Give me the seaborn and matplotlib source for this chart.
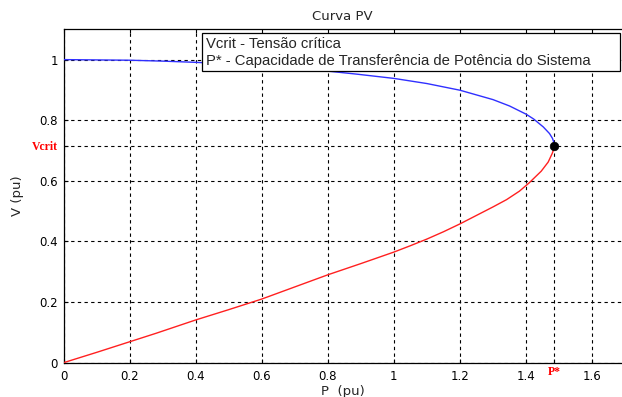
import matplotlib
matplotlib.use("Agg")
import matplotlib.pyplot as plt
from matplotlib.patches import Rectangle
import seaborn as sns
import pandas as pd

# Upper (stable) branch
upper_p = [0, 0.1, 0.2, 0.3, 0.4, 0.5, 0.6, 0.7, 0.8, 0.888, 1.0, 1.1, 1.2, 1.3,
           1.35, 1.4, 1.423, 1.452, 1.471, 1.48, 1.484, 1.485]
upper_v = [1.0, 0.999, 0.998, 0.995, 0.991, 0.986, 0.979, 0.971, 0.962, 0.952,
           0.938, 0.921, 0.899, 0.868, 0.847, 0.82, 0.804, 0.778, 0.756, 0.74,
           0.727, 0.715]

# Lower (unstable) branch
lower_p = [0, 0.1, 0.2, 0.28, 0.4, 0.5, 0.6, 0.7, 0.8, 0.9, 1.0, 1.05, 1.1, 1.15,
           1.2, 1.25, 1.3, 1.341, 1.38, 1.41, 1.446, 1.467, 1.479, 1.484, 1.485]
lower_v = [0, 0.034, 0.069, 0.097, 0.141, 0.175, 0.21, 0.25, 0.29, 0.327, 0.365,
           0.386, 0.408, 0.432, 0.458, 0.486, 0.514, 0.538, 0.566, 0.594, 0.632,
           0.662, 0.69, 0.705, 0.715]

p_star = 1.485
v_crit = 0.715

x_ticks = [0, 0.2, 0.4, 0.6, 0.8, 1.0, 1.2, 1.4, p_star, 1.6]
x_labels = ["0", "0.2", "0.4", "0.6", "0.8", "1", "1.2", "1.4", "P*", "1.6"]
y_ticks = [0, 0.2, 0.4, 0.6, v_crit, 0.8, 1.0]
y_labels = ["0", "0.2", "0.4", "0.6", "Vcrit", "0.8", "1"]

legend_lines = ["Vcrit - Tensão crítica",
                "P* - Capacidade de Transferência de Potência do Sistema"]

sns.set_style("white")
plt.rcParams["font.family"] = ["DejaVu Sans"]

W, H = 622, 397
fig = plt.figure(figsize=(W / 100, H / 100), dpi=100)
ax = fig.add_axes([63.5 / W, 34.3 / H, 1 - 63.5 / W, 333.4 / H])

up = pd.DataFrame({"P": upper_p, "V": upper_v})
lo = pd.DataFrame({"P": lower_p, "V": lower_v})
sns.lineplot(data=up, x="P", y="V", ax=ax, color="#3030ff", linewidth=1.0,
             sort=False, estimator=None, zorder=3)
sns.lineplot(data=lo, x="P", y="V", ax=ax, color="#ff2020", linewidth=1.0,
             sort=False, estimator=None, zorder=3)
sns.scatterplot(x=[p_star], y=[v_crit], ax=ax, color="black", s=38,
                edgecolor="black", zorder=5)

ax.set_xlim(0, (W - 63.5) / 330.4)
ax.set_ylim(0, 1.1)
ax.set_xticks(x_ticks)
ax.set_xticklabels(x_labels)
ax.set_yticks(y_ticks)
ax.set_yticklabels(y_labels)

ax.grid(True, color="black", linestyle=(0, (3, 3)), linewidth=0.8)
ax.tick_params(direction="in", length=3, bottom=True, left=True, top=True,
               right=False, width=0.8, colors="black", labelsize=8.5)
ax.tick_params(axis="x", pad=5)
ax.tick_params(axis="y", pad=4)

for lab in ax.get_xticklabels() + ax.get_yticklabels():
    if lab.get_text() in ("P*", "Vcrit"):
        lab.set_color("red")
        lab.set_family("Liberation Serif")
        lab.set_fontsize(8.5)
        lab.set_fontweight("bold")
for lab in ax.get_xticklabels():
    if lab.get_text() == "P*":
        lab.set_y(0.012)

for s in ["left", "bottom", "top"]:
    ax.spines[s].set_color("black")
    ax.spines[s].set_linewidth(0.9)
ax.spines["right"].set_visible(False)

ax.set_xlabel("P  (pu)", fontsize=9.5, labelpad=2)
ax.set_ylabel("V (pu)", fontsize=9.5, labelpad=6)
ax.set_title("Curva PV", fontsize=9.5, pad=7)

# legend-like text box (text only, no handles)
box = Rectangle((202 / W, 1 - 71 / H), (620 - 202) / W, 38 / H,
                transform=fig.transFigure, facecolor="white",
                edgecolor="black", linewidth=0.9, zorder=10)
fig.patches.append(box)
fig.text(206 / W, 1 - 43.5 / H, legend_lines[0], fontsize=10.75,
         family="Liberation Sans", va="center", ha="left", zorder=11)
fig.text(206 / W, 1 - 61 / H, legend_lines[1], fontsize=10.75,
         family="Liberation Sans", va="center", ha="left", zorder=11)

fig.savefig("out.png", dpi=100)
